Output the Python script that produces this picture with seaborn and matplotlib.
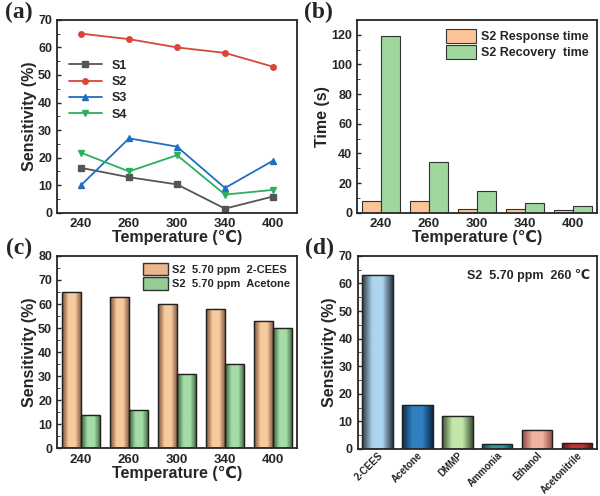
import numpy as np
import pandas as pd
import matplotlib
matplotlib.use('Agg')
import matplotlib.pyplot as plt
import seaborn as sns
from matplotlib.colors import LinearSegmentedColormap, to_rgb
from matplotlib.lines import Line2D
from matplotlib.patches import Patch

## data
temps = ['240', '260', '300', '340', '400']
s1 = [16.3, 12.9, 10.3, 1.5, 5.9]
s2 = [65, 63, 60, 58, 53]
s3 = [10, 27, 24, 9, 18.9]
s4 = [21.8, 15, 20.9, 6.6, 8.3]

response_time = [8, 8, 2.5, 2.4, 1.7]
recovery_time = [119, 34, 14.5, 6.8, 4.8]

cees_sens = [65, 63, 60, 58, 53]
acetone_sens = [14, 16, 31, 35, 50]

gases = ['2-CEES', 'Acetone', 'DMMP', 'Ammonia', 'Ethanol', 'Acetonitrile']
gas_sens = [63, 16, 12, 1.7, 6.8, 2.1]

## style
sns.set_style('ticks')
plt.rcParams['font.family'] = ['Liberation Sans', 'DejaVu Sans']
plt.rcParams['font.weight'] = 'bold'
plt.rcParams['axes.labelweight'] = 'bold'
plt.rcParams['axes.linewidth'] = 1.3
plt.rcParams['xtick.direction'] = 'in'
plt.rcParams['ytick.direction'] = 'in'

fig = plt.figure(figsize=(6, 4.96), dpi=100)
ax_a = fig.add_axes([0.095, 0.571, 0.400, 0.389])
ax_b = fig.add_axes([0.595, 0.571, 0.400, 0.389])
ax_c = fig.add_axes([0.095, 0.096, 0.400, 0.388])
ax_d = fig.add_axes([0.596, 0.095, 0.399, 0.389])


def shade(ax, patches, centers, edges):
    # cylinder-like gradient clipped to each bar
    xl, yl = ax.get_xlim(), ax.get_ylim()
    for p, c, e in zip(patches, centers, edges):
        cmap = LinearSegmentedColormap.from_list(
            'g', [to_rgb(e), to_rgb(c), to_rgb(c), to_rgb(e)])
        x0, y0 = p.get_x(), p.get_y()
        w, h = p.get_width(), p.get_height()
        grad = np.linspace(0, 1, 64).reshape(1, -1)
        im = ax.imshow(grad, cmap=cmap, aspect='auto', extent=(x0, x0 + w, y0, y0 + h),
                       zorder=p.get_zorder() + 0.1)
        im.set_clip_path(p)
        p.set_facecolor('none')
        ax.add_patch(plt.Rectangle((x0, y0), w, h, fill=False, ec='#222222', lw=1.0,
                                   zorder=p.get_zorder() + 0.2))
    ax.set_xlim(xl)
    ax.set_ylim(yl)


def finish(ax, label, ymax, ystep, xlabel=True):
    ax.set_ylim(0, ymax)
    ax.set_yticks(np.arange(0, ymax + 0.1, ystep))
    ax.yaxis.set_minor_locator(matplotlib.ticker.AutoMinorLocator(2))
    ax.tick_params(axis='y', labelsize=9, length=3, width=1)
    ax.tick_params(axis='y', which='minor', length=2)
    ax.tick_params(axis='x', labelsize=9.5, length=0, pad=4)
    for t in ax.get_xticklabels() + ax.get_yticklabels():
        t.set_fontweight('bold')
    if xlabel:
        ax.set_xlabel('Temperature (\u2103)', fontsize=11.5, labelpad=0)
    ax.text(-0.16, 1.04, label, transform=ax.transAxes, fontsize=17, fontweight='bold',
            family='Liberation Serif', ha='center', va='center')


## (a) sensitivity of each sensor
df_a = pd.DataFrame({'Temperature': temps * 4,
                     'Sensitivity': s1 + s2 + s3 + s4,
                     'Sensor': ['S1'] * 5 + ['S2'] * 5 + ['S3'] * 5 + ['S4'] * 5})
line_colors = ['#555555', '#d7483c', '#1f6fc0', '#2fae62']
sns.pointplot(data=df_a, x='Temperature', y='Sensitivity', hue='Sensor', palette=line_colors,
              markers=['s', 'o', '^', 'v'], markersize=4, linewidth=1.3, errorbar=None,
              ax=ax_a, legend=False)
ax_a.set_xlim(-0.5, 4.5)
handles = [Line2D([], [], color=c, marker=m, markersize=4, lw=1.3)
           for c, m in zip(line_colors, ['s', 'o', '^', 'v'])]
ax_a.legend(handles, ['S1', 'S2', 'S3', 'S4'], loc='upper left', bbox_to_anchor=(0.03, 0.82),
            frameon=False, prop={'weight': 'bold', 'size': 9}, handlelength=2.6,
            labelspacing=0.35, borderaxespad=0)
ax_a.set_ylabel('Sensitivity (%)', fontsize=11.5, labelpad=1)
finish(ax_a, '(a)', 70, 10)

## (b) response / recovery time
df_b = pd.DataFrame({'Temperature': temps * 2,
                     'Time': response_time + recovery_time,
                     'kind': ['S2 Response time'] * 5 + ['S2 Recovery  time'] * 5})
sns.barplot(data=df_b, x='Temperature', y='Time', hue='kind',
            palette=['#fbc496', '#9fd79d'], edgecolor='#333333', linewidth=0.8,
            saturation=1, ax=ax_b)
ax_b.legend(loc='upper right', frameon=False, prop={'weight': 'bold', 'size': 9},
            handlelength=2.4, handleheight=1.4, labelspacing=0.15, borderaxespad=0.3,
            handletextpad=0.4)
ax_b.set_ylabel('Time (s)', fontsize=11.5, labelpad=1)
finish(ax_b, '(b)', 130, 20)
ax_b.set_yticks(np.arange(0, 121, 20))

## (c) 2-CEES vs acetone
df_c = pd.DataFrame({'Temperature': temps * 2,
                     'Sensitivity': cees_sens + acetone_sens,
                     'gas': ['S2  5.70 ppm  2-CEES'] * 5 + ['S2  5.70 ppm  Acetone'] * 5})
sns.barplot(data=df_c, x='Temperature', y='Sensitivity', hue='gas',
            palette=['#f2b58a', '#8fd093'], edgecolor='#333333', linewidth=0.8,
            saturation=1, ax=ax_c)
ax_c.set_ylabel('Sensitivity (%)', fontsize=11.5, labelpad=1)
finish(ax_c, '(c)', 80, 10)
bars = ax_c.patches[:10]
shade(ax_c, bars, ['#f8caa0'] * 5 + ['#a6dca8'] * 5, ['#7a5236'] * 5 + ['#35603a'] * 5)
ax_c.legend([Patch(fc='#ecb58c', ec='#333333'), Patch(fc='#94cc96', ec='#333333')],
            ['S2  5.70 ppm  2-CEES', 'S2  5.70 ppm  Acetone'], loc='upper right',
            frameon=False, prop={'weight': 'bold', 'size': 8}, handlelength=2.2,
            handleheight=1.4, labelspacing=0.15, borderaxespad=0.2, handletextpad=0.4)

## (d) selectivity
df_d = pd.DataFrame({'gas': gases, 'Sensitivity': gas_sens})
sns.barplot(data=df_d, x='gas', y='Sensitivity', color='#a9d0ea', width=0.76,
            edgecolor='#222222', linewidth=0.8, ax=ax_d)
ax_d.set_xlabel('')
ax_d.set_ylabel('Sensitivity (%)', fontsize=11.5, labelpad=1)
finish(ax_d, '(d)', 70, 10, xlabel=False)
ax_d.tick_params(axis='x', labelsize=7, pad=1)
for t in ax_d.get_xticklabels():
    t.set_rotation(45)
    t.set_ha('right')
    t.set_rotation_mode('anchor')
shade(ax_d, ax_d.patches[:6],
      ['#add4ee', '#2f80c2', '#c4e6a8', '#2a9a9a', '#f0b2a2', '#c03434'],
      ['#2b3a44', '#0e2a48', '#3b5533', '#124a6a', '#8a4a40', '#5e1414'])
ax_d.text(0.97, 0.90, 'S2  5.70 ppm  260 \u2103', transform=ax_d.transAxes, ha='right',
          va='center', fontsize=9, fontweight='bold')

fig.savefig('out.png', dpi=100)
